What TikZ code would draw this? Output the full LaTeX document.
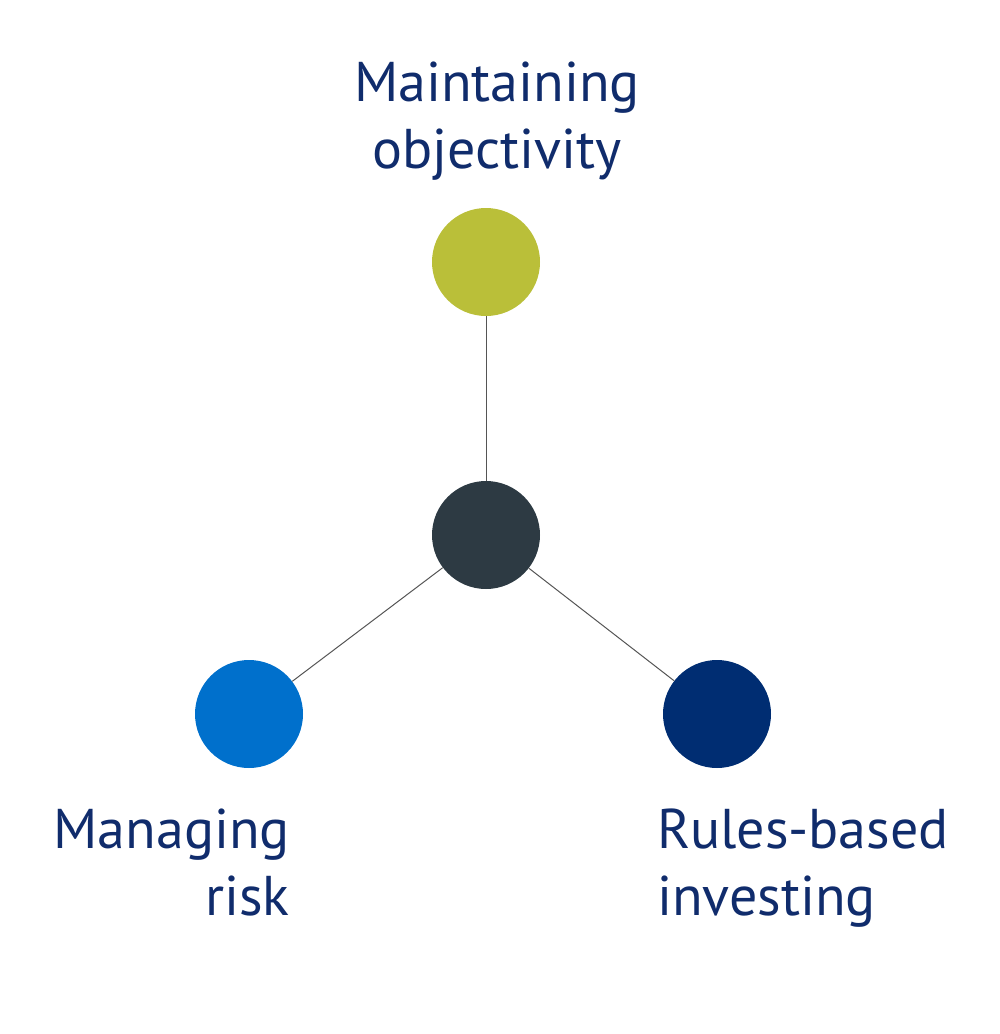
\documentclass[tikz,border=0pt]{standalone}
\usepackage{fontspec}
\setmainfont{PT Sans}
\usepackage{xcolor}
\usepackage{tikz}
\usetikzlibrary{positioning}
\definecolor{pillarolive}{HTML}{BABF39}
\definecolor{pillarcore}{HTML}{2D3A43}
\definecolor{pillarblue}{HTML}{0070CC}
\definecolor{pillarnavy}{HTML}{002D72}
\definecolor{labelnavy}{HTML}{102C6C}
\definecolor{linkgray}{HTML}{555555}

\begin{document}
\begin{tikzpicture}[
    x=1pt, y=-1pt,
    dot/.style={circle, minimum size=108pt, inner sep=0pt},
    link/.style={draw, line width=1pt, color=linkgray},
    label/.style={inner sep=0pt, text=labelnavy, font=\fontsize{56}{67}\selectfont}
]
\useasboundingbox (0,0) rectangle (1000,1034);

\node [dot, fill=pillarcore] (core) at (486,535) {};
\node [dot, fill=pillarolive] (objectivity) at (486,262) {};
\node [dot, fill=pillarblue] (risk) at (249,714) {};
\node [dot, fill=pillarnavy] (rules) at (717,714) {};

\draw [link] (core) -- (objectivity);
\draw [link] (core) -- (risk);
\draw [link] (core) -- (rules);

% anchor base sits on the last line
\node [label, align=center, anchor=base] (objtext) at (497,168) {Maintaining\\objectivity};
\node [label, align=right, anchor=base east] (risktext) at (290,915) {Managing\\risk};
\node [label, align=left, anchor=base west] (rulestext) at (657,915) {Rules-based\\investing};

\end{tikzpicture}
\end{document}
